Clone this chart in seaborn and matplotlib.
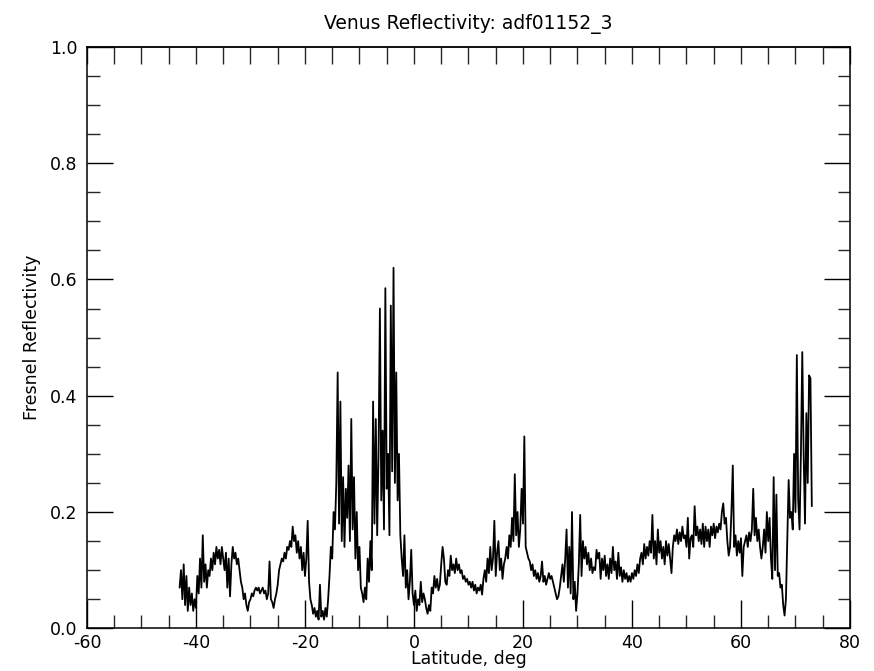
import numpy as np
import pandas as pd
import matplotlib
matplotlib.use("Agg")
import matplotlib.pyplot as plt
import seaborn as sns
from matplotlib.ticker import MultipleLocator

# Reflectivity samples, 0.25 deg apart, each segment starting at the given latitude
seg_start = [-43.0, -33.0, -23.0, -13.0, -3.0, 7.0, 17.0, 27.0, 37.0, 47.0, 57.0, 67.0]
lat_step = 0.25

refl_a = [0.07, 0.10, 0.05, 0.11, 0.04, 0.09, 0.03, 0.07, 0.04, 0.06,
          0.03, 0.05, 0.035, 0.09, 0.06, 0.12, 0.07, 0.16, 0.08, 0.11,
          0.07, 0.10, 0.09, 0.12, 0.10, 0.13, 0.11, 0.14, 0.12, 0.135,
          0.11, 0.14, 0.12, 0.10, 0.13, 0.07, 0.12, 0.055, 0.11, 0.14]
refl_b = [0.12, 0.13, 0.11, 0.12, 0.10, 0.08, 0.07, 0.05, 0.06, 0.04,
          0.03, 0.045, 0.05, 0.06, 0.055, 0.065, 0.07, 0.065, 0.07, 0.06,
          0.065, 0.07, 0.06, 0.065, 0.05, 0.06, 0.115, 0.05, 0.045, 0.035,
          0.05, 0.06, 0.075, 0.10, 0.11, 0.12, 0.115, 0.13, 0.12, 0.14]
refl_c = [0.135, 0.15, 0.14, 0.175, 0.15, 0.16, 0.13, 0.15, 0.12, 0.14,
          0.10, 0.13, 0.09, 0.12, 0.185, 0.08, 0.05, 0.04, 0.025, 0.035,
          0.02, 0.03, 0.015, 0.075, 0.02, 0.03, 0.015, 0.035, 0.02, 0.05,
          0.09, 0.14, 0.12, 0.20, 0.17, 0.25, 0.44, 0.18, 0.39, 0.15]
refl_d = [0.26, 0.14, 0.24, 0.19, 0.28, 0.15, 0.36, 0.17, 0.26, 0.12,
          0.20, 0.10, 0.14, 0.07, 0.06, 0.045, 0.07, 0.05, 0.12, 0.08,
          0.15, 0.10, 0.39, 0.18, 0.36, 0.16, 0.30, 0.55, 0.22, 0.34,
          0.17, 0.585, 0.24, 0.30, 0.16, 0.555, 0.27, 0.62, 0.25, 0.44]
refl_e = [0.22, 0.30, 0.16, 0.12, 0.09, 0.16, 0.07, 0.10, 0.05, 0.08,
          0.135, 0.06, 0.04, 0.065, 0.03, 0.05, 0.04, 0.08, 0.045, 0.06,
          0.05, 0.035, 0.025, 0.04, 0.03, 0.07, 0.06, 0.09, 0.07, 0.085,
          0.065, 0.075, 0.11, 0.14, 0.12, 0.08, 0.075, 0.10, 0.09, 0.125]
refl_f = [0.10, 0.11, 0.095, 0.12, 0.10, 0.11, 0.095, 0.10, 0.085, 0.09,
          0.08, 0.085, 0.075, 0.08, 0.07, 0.08, 0.065, 0.075, 0.06, 0.07,
          0.065, 0.075, 0.058, 0.085, 0.10, 0.08, 0.12, 0.095, 0.14, 0.10,
          0.12, 0.185, 0.09, 0.13, 0.15, 0.10, 0.12, 0.085, 0.11, 0.12]
refl_g = [0.14, 0.12, 0.16, 0.14, 0.19, 0.15, 0.265, 0.16, 0.20, 0.14,
          0.17, 0.24, 0.18, 0.33, 0.14, 0.13, 0.12, 0.115, 0.10, 0.11,
          0.09, 0.10, 0.085, 0.095, 0.08, 0.09, 0.115, 0.08, 0.09, 0.075,
          0.085, 0.095, 0.085, 0.09, 0.08, 0.07, 0.06, 0.05, 0.055, 0.07]
refl_h = [0.09, 0.11, 0.08, 0.12, 0.17, 0.07, 0.14, 0.06, 0.20, 0.05,
          0.08, 0.03, 0.06, 0.11, 0.195, 0.09, 0.15, 0.12, 0.14, 0.11,
          0.13, 0.10, 0.12, 0.095, 0.105, 0.10, 0.135, 0.12, 0.13, 0.085,
          0.12, 0.10, 0.125, 0.09, 0.11, 0.085, 0.12, 0.095, 0.14, 0.10]
refl_i = [0.115, 0.085, 0.13, 0.09, 0.105, 0.08, 0.10, 0.085, 0.095, 0.08,
          0.09, 0.08, 0.095, 0.085, 0.10, 0.09, 0.11, 0.095, 0.12, 0.13,
          0.11, 0.145, 0.12, 0.14, 0.125, 0.15, 0.13, 0.195, 0.12, 0.15,
          0.11, 0.17, 0.13, 0.15, 0.12, 0.14, 0.11, 0.15, 0.125, 0.145]
refl_j = [0.12, 0.095, 0.14, 0.16, 0.15, 0.17, 0.145, 0.165, 0.15, 0.175,
          0.155, 0.16, 0.14, 0.19, 0.12, 0.155, 0.16, 0.14, 0.21, 0.16,
          0.175, 0.15, 0.17, 0.145, 0.18, 0.14, 0.175, 0.15, 0.17, 0.14,
          0.175, 0.16, 0.18, 0.155, 0.175, 0.165, 0.18, 0.17, 0.20, 0.215]
refl_k = [0.18, 0.19, 0.15, 0.125, 0.14, 0.20, 0.28, 0.14, 0.16, 0.125,
          0.15, 0.13, 0.155, 0.09, 0.14, 0.15, 0.16, 0.14, 0.165, 0.15,
          0.17, 0.24, 0.16, 0.19, 0.15, 0.17, 0.14, 0.12, 0.14, 0.17,
          0.13, 0.20, 0.15, 0.19, 0.12, 0.085, 0.26, 0.10, 0.23, 0.09]
refl_l = [0.095, 0.07, 0.075, 0.04, 0.022, 0.05, 0.15, 0.255, 0.19, 0.20,
          0.17, 0.30, 0.20, 0.47, 0.22, 0.17, 0.30, 0.475, 0.30, 0.18,
          0.37, 0.25, 0.435, 0.43, 0.21]

segments = [refl_a, refl_b, refl_c, refl_d, refl_e, refl_f,
            refl_g, refl_h, refl_i, refl_j, refl_k, refl_l]

title_text = "Venus Reflectivity: adf01152_3"
x_label = "Latitude, deg"
y_label = "Fresnel Reflectivity"

lats, vals = [], []
for s0, seg in zip(seg_start, segments):
    lats.extend(s0 + lat_step * np.arange(len(seg)))
    vals.extend(seg)
df = pd.DataFrame({"lat": lats, "refl": vals})

sns.set_style("white")
plt.rcParams["font.family"] = ["DejaVu Sans"]
plt.rcParams["axes.unicode_minus"] = False

fig = plt.figure(figsize=(8.74, 6.71), dpi=100)
ax = fig.add_axes([0.0995, 0.0636, 0.873, 0.8666])

sns.lineplot(data=df, x="lat", y="refl", ax=ax, color="black",
             linewidth=1.3, estimator=None, sort=False)

ax.set_xlim(-60, 80)
ax.set_ylim(0, 1.0)
ax.xaxis.set_major_locator(MultipleLocator(20))
ax.xaxis.set_minor_locator(MultipleLocator(5))
ax.yaxis.set_major_locator(MultipleLocator(0.2))
ax.yaxis.set_minor_locator(MultipleLocator(0.05))
ax.yaxis.set_major_formatter(matplotlib.ticker.FormatStrFormatter("%.1f"))

for sp in ax.spines.values():
    sp.set_color("black")
    sp.set_linewidth(1.1)

ax.tick_params(axis="x", which="major", direction="in", length=20, width=1.0,
               bottom=True, top=False, labelsize=12.5, pad=4, colors="black")
ax.tick_params(axis="x", which="minor", direction="in", length=9.5, width=1.0,
               bottom=True, top=False)
ax.tick_params(axis="y", which="major", direction="in", length=19, width=1.0,
               left=True, right=True, labelsize=12.5, pad=7, colors="black")
ax.tick_params(axis="y", which="minor", direction="in", length=9, width=1.0,
               left=True, right=True)

top = ax.secondary_xaxis("top")
top.set_xticks(np.arange(-60, 81, 5))
top.tick_params(direction="in", length=12, width=1.0, labeltop=False)
top.spines["top"].set_linewidth(1.1)

ax.set_xlabel(x_label, fontsize=12.5, labelpad=-1, color="black")
ax.set_ylabel(y_label, fontsize=12.5, labelpad=6, color="black")
ax.set_title(title_text, fontsize=13.5, pad=13, color="black")

fig.savefig("out.png", dpi=100, facecolor="white")
